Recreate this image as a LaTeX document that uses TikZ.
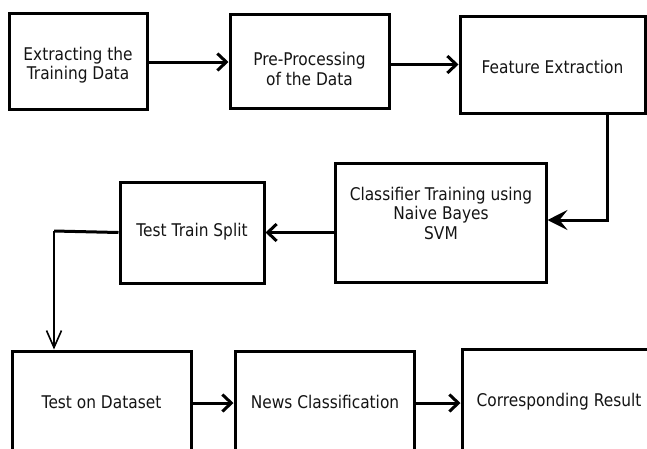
\documentclass[tikz,border=0pt]{standalone}
\usepackage{fontspec}
\setmainfont{DejaVu Sans}[FakeStretch=0.88]
\usetikzlibrary{arrows.meta}
\begin{document}
\begin{tikzpicture}[x=1pt,y=1pt,
  box/.style={draw=black, line width=3pt, rectangle, inner sep=0pt},
  txt/.style={align=center, font=\fontsize{17.5}{19.5}\selectfont, text=black!92, inner sep=0pt},
  conn/.style={line width=3pt},
  barb/.style={-{Straight Barb[length=9pt,width=17pt,line width=3pt]}},
]
\useasboundingbox (0,0) rectangle (647,-448);
\clip (0,0) rectangle (647,-448);
% boxes
\node[box, minimum width=138pt, minimum height=96pt] (b1) at (78,-61) {};
\node[box, minimum width=159pt, minimum height=94pt] (b2) at (309.5,-61) {};
\node[box, minimum width=185pt, minimum height=97pt] (b3) at (552.5,-64.5) {};
\node[box, minimum width=211pt, minimum height=119pt] (cls) at (440.5,-222.5) {};
\node[box, minimum width=144pt, minimum height=101pt] (tts) at (192,-232.5) {};
\node[box, minimum width=179pt, minimum height=104pt] (bA) at (101.5,-403) {};
\node[box, minimum width=179pt, minimum height=104pt] (bB) at (324.5,-403) {};
\node[box, minimum width=194pt, minimum height=106pt] (bC) at (559,-402) {};
% texts
\node[txt] (t1) at (78,-65) {Extracting the\\Training Data};
\node[txt] (t2) at (309.5,-69) {Pre-Processing\\of the Data};
\node[txt] (t3) at (552.5,-67) {Feature Extraction};
\node[txt] (tc) at (441,-213) {Classifier Training using\\Naive Bayes\\SVM};
\node[txt] (tt) at (192,-232) {Test Train Split};
\node[txt] (tA) at (101.5,-402) {Test on Dataset};
\node[txt] (tB) at (325,-402) {News Classification};
\node[txt] (tC) at (559,-402) {Corresponding Result};
% connectors
\draw[conn, barb] ([yshift=-1pt]b1.east) -- ([yshift=-1pt]b1.east -| b2.west);
\draw[conn, barb] (b2.east |- b3.west) -- (b3.west);
\draw[conn, -{Stealth[length=20pt,width=20pt,inset=8pt]}] ([xshift=54.5pt]b3.south) |- ([yshift=2.5pt]cls.east);
\draw[conn, barb] (cls.west |- tts.east) -- (tts.east);
\coordinate (turn) at (54,-231);
\draw[conn] (tts.west) -- (turn);
\draw[line width=1.6pt, -{Straight Barb[length=17pt,width=15pt,line width=1.6pt]}] (turn) -- (turn |- bA.north);
\draw[conn, barb] (bA.east) -- (bB.west);
\draw[conn, barb] (bB.east) -- (bC.west |- bB.east);
\end{tikzpicture}
\end{document}
